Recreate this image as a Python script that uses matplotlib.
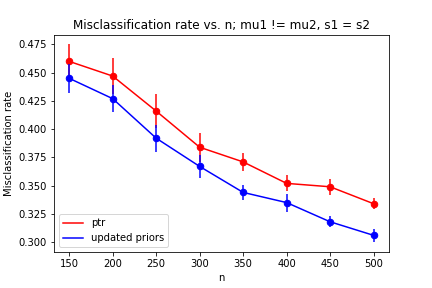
import matplotlib
matplotlib.use("Agg")
import matplotlib.pyplot as plt
import numpy as np

n = [150, 200, 250, 300, 350, 400, 450, 500]
ptr = [0.460, 0.447, 0.416, 0.384, 0.371, 0.352, 0.349, 0.334]
ptr_err = [0.015, 0.016, 0.015, 0.013, 0.008, 0.007, 0.007, 0.005]
upd = [0.445, 0.427, 0.392, 0.367, 0.344, 0.335, 0.318, 0.306]
upd_err = [0.013, 0.012, 0.012, 0.010, 0.007, 0.008, 0.005, 0.006]

fig, ax = plt.subplots(figsize=(6, 4), dpi=72)
fig.subplots_adjust(left=0.125, right=0.9, top=0.88, bottom=0.125)
ax.plot(n, ptr, color="red", label="ptr")
ax.errorbar(n, ptr, yerr=ptr_err, fmt="none", ecolor="red", alpha=0.75, elinewidth=2)
ax.plot(n, ptr, "o", color="red", markersize=6.5)
ax.plot(n, upd, color="blue", label="updated priors")
ax.errorbar(n, upd, yerr=upd_err, fmt="none", ecolor="blue", alpha=0.75, elinewidth=2)
ax.plot(n, upd, "o", color="blue", markersize=6.5)
ax.set_title("Misclassification rate vs. n; mu1 != mu2, s1 = s2")
ax.set_xlabel("n")
ax.set_ylabel("Misclassification rate")
ax.legend(loc="lower left")
fig.savefig("out.png", dpi=72)
